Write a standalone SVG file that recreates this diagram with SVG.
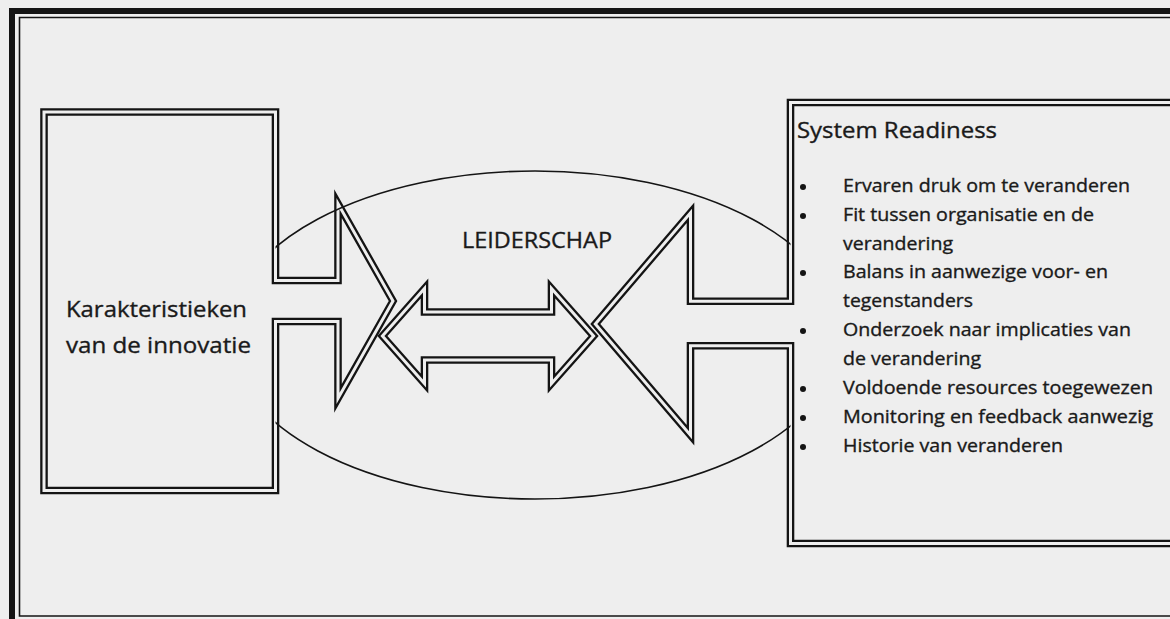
<svg xmlns="http://www.w3.org/2000/svg" xmlns:xlink="http://www.w3.org/1999/xlink" width="1170" height="619" viewBox="0 0 1170 619">
  <style>
    .txt { font-family: "Open Sans", "Liberation Sans", sans-serif; fill: #1a1a1a; stroke: #1a1a1a; stroke-width: 0.35; }
    .title { font-size: 21.5px; }
    .item { font-size: 18px; }
    .ink { fill: #141414; }
    .paper { fill: #eeeeee; }
    .rim { fill: none; stroke: #fff; stroke-width: 7.6; stroke-linejoin: miter; stroke-miterlimit: 12; }
    .gap { fill: none; stroke: #000; stroke-width: 3; stroke-linejoin: miter; stroke-miterlimit: 12; }
    .thin { fill: none; stroke: #141414; stroke-width: 1.6; }
    .bullet { fill: #141414; }
  </style>
  <defs>
    <!-- centre lines of the double-ruled outlines -->
    <path id="outline-left" d="M 44 112 H 275.5 V 280.5 H 338 V 203.6 L 393 301 L 338 398.4 V 321.5 H 275.5 V 490.5 H 44 Z"/>
    <path id="outline-right" d="M 1185 102.5 H 790.5 V 301.2 H 690.5 V 212.8 L 595.3 324 L 690.5 435.2 V 345.8 H 790.5 V 543.5 H 1185"/>
    <path id="outline-mid" d="M 382.4 336 L 424.5 288.5 V 312 H 551.5 V 288.5 L 593.6 336 L 551.5 383.5 V 360 H 424.5 V 383.5 Z"/>
    <!-- each mask turns one centre line into a pair of parallel rules -->
    <mask id="double-left" maskUnits="userSpaceOnUse" x="0" y="0" width="1170" height="619">
      <use xlink:href="#outline-left" class="rim"/>
      <use xlink:href="#outline-left" class="gap"/>
    </mask>
    <mask id="double-right" maskUnits="userSpaceOnUse" x="0" y="0" width="1170" height="619">
      <use xlink:href="#outline-right" class="rim"/>
      <use xlink:href="#outline-right" class="gap"/>
    </mask>
    <mask id="double-mid" maskUnits="userSpaceOnUse" x="0" y="0" width="1170" height="619">
      <use xlink:href="#outline-mid" class="rim"/>
      <use xlink:href="#outline-mid" class="gap"/>
    </mask>
  </defs>

  <!-- paper -->
  <rect x="0" y="0" width="1170" height="619" class="paper"/>

  <!-- page border: heavy rule with a fine rule inside -->
  <g id="border">
    <rect x="9" y="8" width="6" height="611" class="ink"/>
    <rect x="9" y="8" width="1161" height="6" class="ink"/>
    <path d="M 1170 17.5 H 19.5 V 616 H 1170" class="thin"/>
  </g>

  <!-- leadership ellipse behind both blocks -->
  <g id="leiderschap">
    <ellipse cx="535" cy="335" rx="307" ry="164" class="thin"/>
    <text x="462" y="248" class="txt" font-size="22" textLength="150" lengthAdjust="spacingAndGlyphs">LEIDERSCHAP</text>
  </g>

  <!-- innovation characteristics block with its arrow -->
  <g id="karakteristieken">
    <rect x="44" y="112" width="231.5" height="378.5" class="paper"/>
    <rect x="0" y="0" width="1170" height="619" class="ink" mask="url(#double-left)"/>
    <text x="66" y="317" class="txt title" textLength="181" lengthAdjust="spacingAndGlyphs">Karakteristieken</text>
    <text x="66" y="353" class="txt title" textLength="185" lengthAdjust="spacingAndGlyphs">van de innovatie</text>
  </g>

  <!-- system readiness block with its arrow -->
  <g id="system-readiness">
    <rect x="790.5" y="102.5" width="400" height="441" class="paper"/>
    <rect x="0" y="0" width="1170" height="619" class="ink" mask="url(#double-right)"/>
    <text x="797" y="138" class="txt title" textLength="200" lengthAdjust="spacingAndGlyphs">System Readiness</text>
    <g class="bullets">
      <circle cx="803" cy="187" r="3" class="bullet"/>
      <circle cx="803" cy="216" r="3" class="bullet"/>
      <circle cx="803" cy="273" r="3" class="bullet"/>
      <circle cx="803" cy="331" r="3" class="bullet"/>
      <circle cx="803" cy="389" r="3" class="bullet"/>
      <circle cx="803" cy="418" r="3" class="bullet"/>
      <circle cx="803" cy="447" r="3" class="bullet"/>
    </g>
    <text x="843" y="192" class="txt item" textLength="287" lengthAdjust="spacingAndGlyphs">Ervaren druk om te veranderen</text>
    <text x="843" y="221" class="txt item" textLength="251" lengthAdjust="spacingAndGlyphs">Fit tussen organisatie en de</text>
    <text x="843" y="249.5" class="txt item" textLength="110" lengthAdjust="spacingAndGlyphs">verandering</text>
    <text x="843" y="278" class="txt item" textLength="265" lengthAdjust="spacingAndGlyphs">Balans in aanwezige voor- en</text>
    <text x="843" y="306.5" class="txt item" textLength="130" lengthAdjust="spacingAndGlyphs">tegenstanders</text>
    <text x="843" y="335.5" class="txt item" textLength="288" lengthAdjust="spacingAndGlyphs">Onderzoek naar implicaties van</text>
    <text x="843" y="364.5" class="txt item" textLength="138" lengthAdjust="spacingAndGlyphs">de verandering</text>
    <text x="843" y="393.5" class="txt item" textLength="310" lengthAdjust="spacingAndGlyphs">Voldoende resources toegewezen</text>
    <text x="843" y="422.5" class="txt item" textLength="310" lengthAdjust="spacingAndGlyphs">Monitoring en feedback aanwezig</text>
    <text x="843" y="452" class="txt item" textLength="220" lengthAdjust="spacingAndGlyphs">Historie van veranderen</text>
  </g>

  <!-- two-headed arrow between the blocks -->
  <g id="connectors">
    <rect x="0" y="0" width="1170" height="619" class="ink" mask="url(#double-mid)"/>
  </g>
</svg>
